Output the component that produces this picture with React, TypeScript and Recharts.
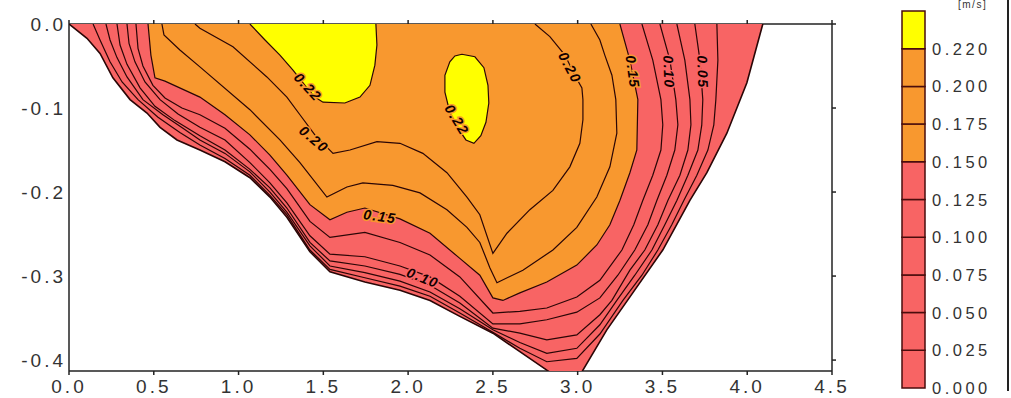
import React from 'react';
import { BarChart, Bar, ComposedChart, Scatter, XAxis, YAxis } from 'recharts';

type Pt = [number, number];

// channel bed = the 0.000 isoline (x: distance [m], y: depth [m])
const bed: Pt[] = [
  [0, 0], [0.106, -0.017], [0.183, -0.035], [0.259, -0.064], [0.36, -0.09], [0.46, -0.106],
  [0.537, -0.123], [0.637, -0.138], [0.772, -0.15], [0.92, -0.164], [1.067, -0.183], [1.185, -0.206],
  [1.285, -0.23], [1.421, -0.271], [1.539, -0.295], [1.745, -0.307], [1.952, -0.317], [2.129, -0.329],
  [2.305, -0.348], [2.5, -0.368], [2.659, -0.39], [2.818, -0.412], [2.925, -0.426], [3.025, -0.414],
  [3.172, -0.364], [3.325, -0.32], [3.502, -0.269], [3.662, -0.21], [3.762, -0.177], [3.88, -0.13],
  [3.998, -0.07], [4.092, 0],
];

const c025: Pt[] = [
  [0.142, 0], [0.183, -0.019], [0.242, -0.045], [0.313, -0.069], [0.407, -0.09], [0.525, -0.111],
  [0.654, -0.129], [0.772, -0.144], [0.92, -0.16], [1.067, -0.18], [1.185, -0.204], [1.285, -0.227],
  [1.421, -0.269], [1.539, -0.292], [1.745, -0.302], [1.952, -0.312], [2.129, -0.324], [2.305, -0.344],
  [2.5, -0.367], [2.659, -0.386], [2.818, -0.402], [2.995, -0.398], [3.131, -0.369], [3.267, -0.329],
  [3.379, -0.299], [3.473, -0.269], [3.555, -0.239], [3.626, -0.21], [3.703, -0.18], [3.768, -0.15],
  [3.803, -0.12], [3.815, -0.09], [3.827, -0.043], [3.821, 0],
];

const c050: Pt[] = [
  [0.218, 0], [0.242, -0.019], [0.283, -0.04], [0.342, -0.063], [0.436, -0.09], [0.554, -0.108],
  [0.672, -0.124], [0.772, -0.138], [0.92, -0.154], [1.067, -0.176], [1.185, -0.2], [1.285, -0.224],
  [1.421, -0.264], [1.539, -0.288], [1.745, -0.296], [1.952, -0.306], [2.129, -0.319], [2.305, -0.339],
  [2.5, -0.364], [2.659, -0.379], [2.818, -0.392], [2.995, -0.386], [3.131, -0.358], [3.231, -0.329],
  [3.337, -0.299], [3.438, -0.269], [3.514, -0.239], [3.585, -0.21], [3.65, -0.18], [3.709, -0.15],
  [3.732, -0.12], [3.738, -0.09], [3.721, -0.043], [3.691, 0],
];

const c075: Pt[] = [
  [0.283, 0], [0.301, -0.025], [0.342, -0.048], [0.419, -0.076], [0.507, -0.098], [0.625, -0.115],
  [0.772, -0.133], [0.92, -0.15], [1.067, -0.173], [1.185, -0.195], [1.285, -0.219], [1.421, -0.26],
  [1.539, -0.282], [1.745, -0.288], [1.952, -0.298], [2.129, -0.311], [2.305, -0.332], [2.5, -0.362],
  [2.659, -0.368], [2.818, -0.376], [2.995, -0.37], [3.131, -0.346], [3.202, -0.329], [3.308, -0.293],
  [3.396, -0.269], [3.473, -0.239], [3.532, -0.21], [3.603, -0.18], [3.65, -0.15], [3.668, -0.12],
  [3.662, -0.09], [3.632, -0.043], [3.585, 0],
];

const c100: Pt[] = [
  [0.342, 0], [0.354, -0.023], [0.389, -0.045], [0.448, -0.069], [0.537, -0.09], [0.643, -0.107],
  [0.772, -0.123], [0.92, -0.138], [1.067, -0.165], [1.185, -0.189], [1.285, -0.213], [1.421, -0.252],
  [1.539, -0.274], [1.745, -0.277], [1.952, -0.288], [2.129, -0.301], [2.305, -0.324], [2.5, -0.357],
  [2.659, -0.357], [2.818, -0.352], [2.995, -0.343], [3.131, -0.326], [3.237, -0.299], [3.337, -0.269],
  [3.414, -0.239], [3.467, -0.21], [3.526, -0.18], [3.573, -0.15], [3.591, -0.12], [3.579, -0.09],
  [3.544, -0.043], [3.485, 0],
];

const c125: Pt[] = [
  [0.395, 0], [0.407, -0.029], [0.436, -0.05], [0.495, -0.073], [0.566, -0.088], [0.666, -0.1],
  [0.772, -0.108], [0.92, -0.124], [1.067, -0.149], [1.185, -0.173], [1.285, -0.196], [1.421, -0.235],
  [1.539, -0.254], [1.745, -0.248], [1.952, -0.26], [2.129, -0.275], [2.305, -0.301], [2.5, -0.344],
  [2.659, -0.342], [2.818, -0.338], [2.995, -0.325], [3.131, -0.305], [3.261, -0.269], [3.331, -0.239],
  [3.384, -0.21], [3.443, -0.18], [3.491, -0.15], [3.502, -0.12], [3.491, -0.09], [3.443, -0.043],
  [3.379, 0],
];

const c150: Pt[] = [
  [0.466, 0], [0.483, -0.037], [0.507, -0.064], [0.566, -0.068], [0.772, -0.087], [0.92, -0.108],
  [1.067, -0.132], [1.185, -0.156], [1.285, -0.18], [1.421, -0.215], [1.539, -0.233], [1.639, -0.224],
  [1.745, -0.219], [1.952, -0.232], [2.129, -0.249], [2.305, -0.279], [2.423, -0.299], [2.5, -0.326],
  [2.559, -0.329], [2.659, -0.32], [2.818, -0.307], [2.995, -0.287], [3.113, -0.263], [3.19, -0.239],
  [3.249, -0.21], [3.308, -0.177], [3.349, -0.15], [3.355, -0.09], [3.308, -0.043], [3.249, 0],
];

const c175: Pt[] = [
  [0.548, 0], [0.56, -0.013], [0.654, -0.031], [0.772, -0.051], [1.067, -0.102], [1.244, -0.138],
  [1.362, -0.165], [1.521, -0.206], [1.639, -0.194], [1.733, -0.189], [1.91, -0.192], [2.07, -0.201],
  [2.229, -0.221], [2.347, -0.242], [2.423, -0.26], [2.482, -0.29], [2.524, -0.308], [2.677, -0.293],
  [2.854, -0.269], [2.995, -0.242], [3.113, -0.206], [3.19, -0.17], [3.231, -0.13], [3.225, -0.09],
  [3.202, -0.061], [3.16, -0.037], [3.131, -0.019], [3.078, 0],
];

const c200: Pt[] = [
  [0.743, 0], [0.772, -0.005], [0.967, -0.027], [1.167, -0.063], [1.285, -0.087], [1.362, -0.108],
  [1.45, -0.132], [1.557, -0.154], [1.657, -0.15], [1.816, -0.14], [1.952, -0.142], [2.087, -0.154],
  [2.229, -0.177], [2.347, -0.206], [2.423, -0.227], [2.5, -0.273], [2.583, -0.249], [2.718, -0.221],
  [2.854, -0.198], [2.954, -0.17], [3.013, -0.142], [3.031, -0.114], [3.031, -0.09], [3.025, -0.076],
  [2.983, -0.061], [2.925, -0.037], [2.836, -0.015], [2.748, 0],
];

// the two 0.22 cores
const c220a: Pt[] = [
  [1.067, 0], [1.156, -0.019], [1.244, -0.037], [1.321, -0.055], [1.392, -0.073], [1.45, -0.087],
  [1.498, -0.093], [1.627, -0.094], [1.716, -0.087], [1.775, -0.073], [1.804, -0.049], [1.816, -0.025],
  [1.81, 0],
];
const c220b: Pt[] = [
  [2.317, -0.036], [2.394, -0.039], [2.447, -0.052], [2.471, -0.073], [2.476, -0.094], [2.459, -0.117],
  [2.429, -0.133], [2.388, -0.142], [2.341, -0.138], [2.294, -0.124], [2.246, -0.105], [2.217, -0.081],
  [2.217, -0.061], [2.246, -0.045], [2.276, -0.038], [2.317, -0.036],
];

const labelText = ['0.22', '0.22', '0.20', '0.15', '0.10', '0.20', '0.15', '0.10', '0.05'];
const labelAt: Pt[] = [
  [1.409, -0.075], [2.288, -0.114], [1.445, -0.137], [1.834, -0.229], [2.087, -0.302],
  [2.954, -0.052], [3.325, -0.057], [3.538, -0.057], [3.738, -0.057],
];

const legendLevels = [0, 0.025, 0.05, 0.075, 0.1, 0.125, 0.15, 0.175, 0.2, 0.22];
const xTicks = [0, 0.5, 1, 1.5, 2, 2.5, 3, 3.5, 4, 4.5];
const yTicks = [-0.4, -0.3, -0.2, -0.1, 0];
const unitText = '[m/s]';

const RED = '#f86464';
const ORANGE = '#f8982f';
const YELLOW = '#ffff00';
const INK = '#2a0606';
const AXIS = '#222';
const FONT = '"Liberation Sans", Arial, sans-serif';

const labelAngle = [47, 58, 40, 8, 22, 62, 82, 88, 88];

const rows = (pts: Pt[]) => pts.map(([x, y]) => ({ x, y }));
const bandColor = (v: number) => (v >= 0.22 ? YELLOW : v >= 0.15 ? ORANGE : RED);

const NoDot = () => <g />;

const ContourLabel = (p: any) => {
  const { cx, cy, payload } = p;
  const bg = payload.text === '0.10' || payload.text === '0.05' ? RED : ORANGE;
  return (
    <text
      x={cx}
      y={cy}
      transform={`rotate(${payload.angle} ${cx} ${cy})`}
      textAnchor="middle"
      dy={5}
      fontFamily={FONT}
      fontSize={14}
      fontWeight="bold"
      fontStyle="italic"
      letterSpacing={1.5}
      fill="#120000"
      stroke={bg}
      strokeWidth={3}
      paintOrder="stroke"
    >
      {payload.text}
    </text>
  );
};

const XTick = (p: any) => (
  <text x={p.x} y={p.y} dy={16} textAnchor="middle" fontFamily={FONT} fontSize={19} letterSpacing={3} fill="#333">
    {p.payload.value.toFixed(1)}
  </text>
);

const YTick = (p: any) => (
  <text x={p.x} y={p.y} dy={7} textAnchor="end" fontFamily={FONT} fontSize={19} letterSpacing={3} fill="#333">
    {p.payload.value.toFixed(1)}
  </text>
);

const LegendTick = (p: any) => (
  <text x={p.x} y={p.y} dy={6} textAnchor="start" fontFamily={FONT} fontSize={16.5} letterSpacing={3.5} fill="#333">
    {legendLevels[p.payload.value].toFixed(3)}
  </text>
);

const NoTick = () => <g />;

const legendRow = [
  legendLevels.reduce((acc: Record<string, number | string>, _, i) => ({ ...acc, [`b${i}`]: 1 }), { name: 'scale' }),
];

const isolines = [c025, c050, c075, c100, c125, c150, c175, c200, c220a, c220b];

export default function App() {
  const labels = labelText.map((text, i) => ({ x: labelAt[i][0], y: labelAt[i][1], text, angle: labelAngle[i] }));

  return (
    <div style={{ position: 'absolute', left: 0, top: 0, width: 1011, height: 398, background: '#fff', overflow: 'hidden' }}>
      <div style={{ position: 'absolute', left: 0, top: 0 }}>
        <ComposedChart width={880} height={398} margin={{ top: 23, right: 47, bottom: 0, left: 9 }}>
          {/* filled velocity bands */}
          <Scatter data={rows(bed)} line={{ fill: RED, stroke: 'none' }} shape={NoDot} isAnimationActive={false} />
          <Scatter data={rows(c150)} line={{ fill: ORANGE, stroke: 'none' }} shape={NoDot} isAnimationActive={false} />
          <Scatter data={rows(c220a)} line={{ fill: YELLOW, stroke: 'none' }} shape={NoDot} isAnimationActive={false} />
          <Scatter data={rows(c220b)} line={{ fill: YELLOW, stroke: 'none' }} shape={NoDot} isAnimationActive={false} />

          {/* isolines */}
          {isolines.map((pts, i) => (
            <Scatter
              key={i}
              data={rows(pts)}
              line={{ fill: 'none', stroke: INK, strokeWidth: 1.2 }}
              shape={NoDot}
              isAnimationActive={false}
            />
          ))}
          {/* bed outline, drawn on the top/right axis pair */}
          <Scatter
            xAxisId="top"
            yAxisId="right"
            data={rows(bed)}
            line={{ fill: 'none', stroke: INK, strokeWidth: 1.6 }}
            shape={NoDot}
            isAnimationActive={false}
          />

          <Scatter data={labels} shape={ContourLabel} isAnimationActive={false} />

          <XAxis
            dataKey="x"
            type="number"
            domain={[0, 4.5]}
            ticks={xTicks}
            allowDataOverflow
            height={27}
            stroke={AXIS}
            strokeWidth={1.5}
            tickSize={4}
            tickMargin={2}
            tick={XTick}
          />
          <XAxis
            xAxisId="top"
            dataKey="x"
            orientation="top"
            type="number"
            domain={[0, 4.5]}
            ticks={xTicks}
            allowDataOverflow
            height={1}
            stroke={AXIS}
            strokeWidth={1.5}
            tickSize={4}
            tick={NoTick}
          />
          <YAxis
            dataKey="y"
            type="number"
            domain={[-0.413, 0]}
            ticks={yTicks}
            allowDataOverflow
            width={60}
            stroke={AXIS}
            strokeWidth={1.5}
            tickLine={false}
            tickSize={0}
            tickMargin={3}
            tick={YTick}
          />
          <YAxis
            yAxisId="right"
            dataKey="y"
            orientation="right"
            type="number"
            domain={[-0.413, 0]}
            ticks={yTicks}
            allowDataOverflow
            width={1}
            stroke={AXIS}
            strokeWidth={1.5}
            tickSize={4}
            tick={NoTick}
          />
        </ComposedChart>
      </div>

      <div style={{ position: 'absolute', left: 880, top: 0 }}>
        <BarChart
          width={131}
          height={398}
          data={legendRow}
          margin={{ top: 11, right: 26, bottom: 10, left: 22 }}
          barCategoryGap={0}
          barGap={0}
        >
          <XAxis dataKey="name" hide />
          <YAxis
            orientation="right"
            type="number"
            domain={[0, legendLevels.length]}
            ticks={legendLevels.map((_, i) => i)}
            width={60}
            axisLine={false}
            tickLine={false}
            tickSize={0}
            tickMargin={7}
            tick={LegendTick}
          />
          {legendLevels.map((lv, i) => (
            <Bar key={i} dataKey={`b${i}`} stackId="scale" fill={bandColor(lv)} stroke="#4a0c0c" strokeWidth={1.5} isAnimationActive={false} />
          ))}
        </BarChart>
      </div>

      <div
        style={{
          position: 'absolute', left: 958, top: 0, fontFamily: FONT, fontSize: 10,
          letterSpacing: 1.5, lineHeight: 1, color: '#333', whiteSpace: 'nowrap',
        }}
      >
        {unitText}
      </div>
      <div style={{ position: 'absolute', left: 1007, top: 0, height: 391, borderLeft: `2px solid ${AXIS}` }} />
    </div>
  );
}
